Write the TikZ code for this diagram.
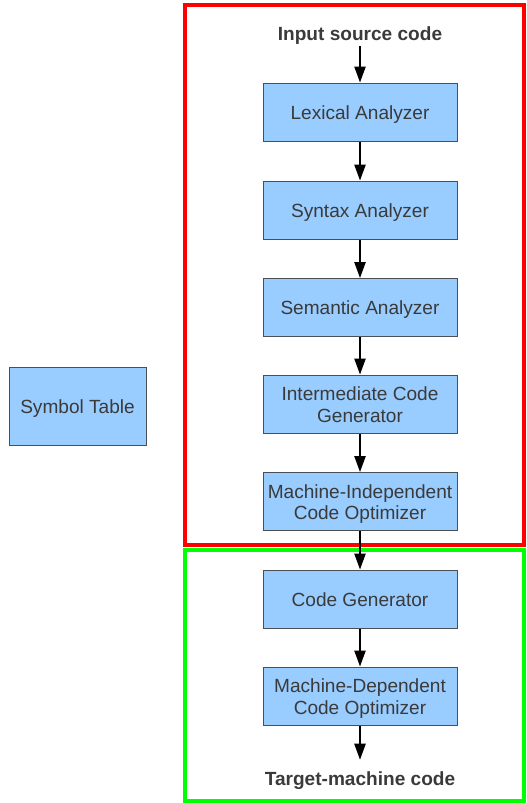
\documentclass[tikz,border=0pt]{standalone}
\usepackage{fontspec}
\setmainfont{Liberation Sans}
\usetikzlibrary{arrows.meta}
\definecolor{boxfill}{HTML}{99CCFF}
\definecolor{boxline}{HTML}{4A4F55}
\definecolor{inktext}{HTML}{3A3A3A}
\definecolor{frontred}{HTML}{FF0000}
\definecolor{backgreen}{HTML}{00FF00}
\tikzset{
  % fixed struts beside the label so every label sits at the same height in its box
  evenlines/.style={execute at begin node={\rule{0pt}{14pt}},
    execute at end node={\rule[-3pt]{0pt}{3pt}}},
  twolines/.style={execute at begin node={\rule{0pt}{30pt}}},
  phase/.style={draw=boxline, line width=0.75pt, fill=boxfill, text=inktext,
    minimum width=145.5pt, minimum height=43.5pt, inner sep=0pt,
    align=center, font=\fontsize{14.3}{15.8}\selectfont, evenlines},
  endlabel/.style={text=inktext, inner sep=1pt, evenlines,
    font=\fontsize{14.3}{15.8}\selectfont\bfseries},
  flow/.style={-{Triangle[length=12pt,width=8.5pt]}, line width=1.1pt, black},
}
\begin{document}
\begin{tikzpicture}[x=0.75pt, y=-0.75pt]
\useasboundingbox (0,0) rectangle (526,803);
% front-end and back-end frames
\draw[frontred, line width=3pt] (185,5) rectangle (524,545);
\draw[backgreen, line width=3pt] (185,550) rectangle (524,801);
% phases
\node[endlabel] (src) at (360,33) {Input source code};
\node[phase] (lex) at (360,112) {Lexical Analyzer};
\node[phase] (syn) at (360,210) {Syntax Analyzer};
\node[phase] (sem) at (360,307.5) {Semantic Analyzer};
\node[phase, twolines] (icg) at (360,404) {Intermediate Code\\Generator};
\node[phase, twolines] (mio) at (360,501.5) {Machine-Independent\\Code Optimizer};
\node[phase] (cg) at (360,599) {Code Generator};
\node[phase, twolines] (mdo) at (360,696) {Machine-Dependent\\Code Optimizer};
\node[endlabel] (tgt) at (360,778) {Target-machine code};
\node[phase, minimum width=102.75pt, minimum height=58.5pt] (sym) at (77.5,406) {Symbol Table};
% flow of the program through the phases
\draw[flow] (src) -- (lex);
\draw[flow] (lex) -- (syn);
\draw[flow] (syn) -- (sem);
\draw[flow] (sem) -- (icg);
\draw[flow] (icg) -- (mio);
\draw[flow] (mio) -- (cg);
\draw[flow] (cg) -- (mdo);
\draw[flow, shorten >=4pt] (mdo) -- (tgt);
\end{tikzpicture}
\end{document}
